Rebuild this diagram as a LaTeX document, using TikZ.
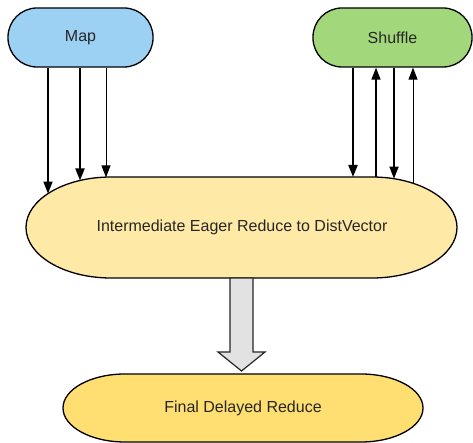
\documentclass[tikz,border=0pt]{standalone}
\usepackage{fontspec}
\setmainfont{Liberation Sans}
\usetikzlibrary{arrows.meta,calc}
\definecolor{mapblue}{HTML}{9DD1F4}
\definecolor{shufgreen}{HTML}{A3D77B}
\definecolor{imeyellow}{HTML}{FFE9A6}
\definecolor{finyellow}{HTML}{FFDE72}
\definecolor{arrowgrey}{HTML}{E2E2E2}
\begin{document}
\begin{tikzpicture}[x=1pt,y=1pt,
  txt/.style={font=\fontsize{16}{19}\selectfont, text=black!85},
  pill/.style={txt, draw=black, line width=1.3pt, rounded corners=29pt,
    minimum height=59pt, inner sep=0pt},
  blob/.style={draw=black, line width=1.3pt},
  flow/.style={-{Triangle[length=12pt,width=9pt]}, black},
  bigarrow/.style={draw=black!85, line width=1.2pt, fill=arrowgrey}]
\useasboundingbox (0,0) rectangle (473,443);

% top nodes
\node[pill, fill=mapblue, minimum width=145pt] (map) at (80.5,405.5) {Map};
\node[pill, fill=shufgreen, minimum width=159pt] (shuffle) at (392.5,405.5) {Shuffle};

% intermediate shape
\draw[blob, fill=imeyellow]
  (111,266) -- (372,266) arc[start angle=90,end angle=-90,x radius=85,y radius=50.5]
  -- (111,165) arc[start angle=270,end angle=90,x radius=85,y radius=50.5] -- cycle;
\node[txt] (ime) at (242,215.5) {Intermediate Eager Reduce to DistVector};

% final shape
\draw[blob, fill=finyellow]
  (125,69) -- (361,69) arc[start angle=90,end angle=-90,x radius=62,y radius=34]
  -- (125,1) arc[start angle=270,end angle=90,x radius=62,y radius=34] -- cycle;
\node[txt] (final) at (243,35) {Final Delayed Reduce};

% big arrow
\draw[bigarrow] (230,165) -- (230,91) -- (218,91) -- (241.5,72) -- (265,91) -- (253,91) -- (253,165) -- cycle;

% points on the border of the intermediate shape
\coordinate (pa) at (48,249.4);
\coordinate (pb) at (80,262.5);
\coordinate (pc) at (106,265.6);
\coordinate (pd) at (353,266);
\coordinate (pe) at (376,265.8);
\coordinate (pf) at (394,264.3);
\coordinate (pg) at (413,259.7);

% map -> ime
\draw[flow, line width=1.5pt] (map.south -| pa) -- (pa);
\draw[flow, line width=2pt] (map.south -| pb) -- (pb);
\draw[flow, line width=1pt] (map.south -| pc) -- (pc);

% shuffle <-> ime
\draw[flow, line width=2pt] (shuffle.south -| pd) -- (pd);
\draw[flow, line width=1.5pt] (pe) -- (shuffle.south -| pe);
\draw[flow, line width=1.5pt] (shuffle.south -| pf) -- (pf);
\draw[flow, line width=1pt] (pg) -- (shuffle.south -| pg);
\end{tikzpicture}
\end{document}
